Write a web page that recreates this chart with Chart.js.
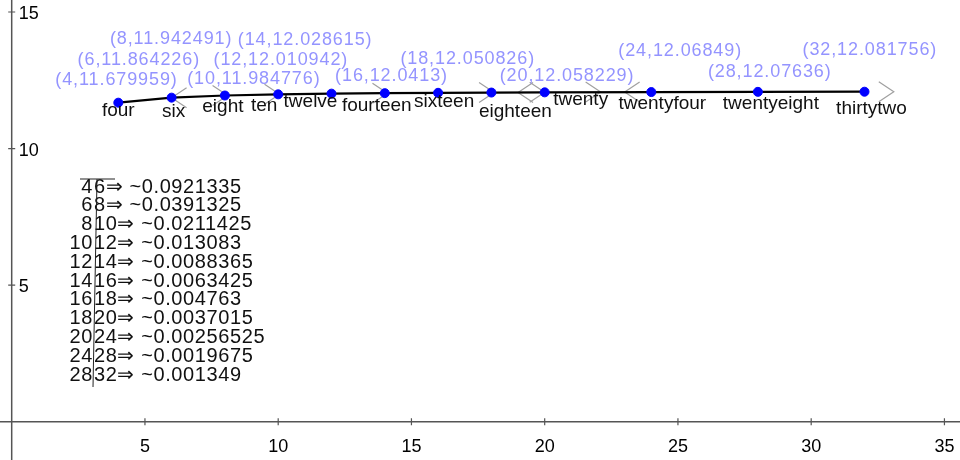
<!DOCTYPE html>
<html>
<head>
<meta charset="utf-8">
<script src="https://cdn.jsdelivr.net/npm/chart.js@4.4.0/dist/chart.umd.min.js"></script>
<style>
    body { margin: 0; background: #fff; }
    canvas { display: block; }
</style>
</head>
<body>
<canvas id="chart" width="960" height="460"></canvas>
<script>
const xValues = [4, 6, 8, 10, 12, 14, 16, 18, 20, 24, 28, 32];
const yValues = [11.679959, 11.864226, 11.942491, 11.984776, 12.010942, 12.028615,
    12.0413, 12.050826, 12.058229, 12.06849, 12.07636, 12.081756];
const pointNames = ["four", "six", "eight", "ten", "twelve", "fourteen", "sixteen",
    "eighteen", "twenty", "twentyfour", "twentyeight", "thirtytwo"];

const xTickValues = [5, 10, 15, 20, 25, 30, 35];
const yTickValues = [5, 10, 15];

// differences between neighbouring points, as listed in the text box
const diffFrom = [4, 6, 8, 10, 12, 14, 16, 18, 20, 24, 28];
const diffTo = [6, 8, 10, 12, 14, 16, 18, 20, 24, 28, 32];
const diffValues = ["0.0921335", "0.0391325", "0.0211425", "0.013083", "0.0088365", "0.0063425",
    "0.004763", "0.0037015", "0.00256525", "0.0019675", "0.001349"];

// gray vector arrow heads: x position and direction
const arrowX = [6, 8.1, 10.05, 14.1, 18.1, 19, 20, 22.1, 23, 33.1];
const arrowDir = [-1, 1, 1, 1, 1, -1, 1, 1, -1, 1];

// label placement (pixels from the point)
const coordOffsets = [[-63, -23], [-94, -38], [-115, -56], [-91, -15], [-118, -34], [-147, -53],
    [-103, -17], [-91, -34], [-45, -16], [-33, -41], [-50, -20], [-62, -42]];
const nameOffsets = [[0, 8], [2, 14], [-2, 11], [-14, 11], [-21, 8], [-8, 13],
    [6, 9], [24, 19], [36, 7], [11, 12], [13, 12], [7, 17]];

const FONT = '"Liberation Sans", Arial, sans-serif';

function nearestY(x) {
    let best = 0;
    xValues.forEach((v, i) => {
        if (Math.abs(v - x) < Math.abs(xValues[best] - x)) best = i;
    });
    return yValues[best];
}

const axesPlugin = {
    id: "geoAxes",
    beforeDraw(chart) {
        const ctx = chart.ctx;
        ctx.save();
        ctx.fillStyle = "#fff";
        ctx.fillRect(0, 0, chart.width, chart.height);
        ctx.restore();
    },
    beforeDatasetsDraw(chart) {
        const ctx = chart.ctx;
        const xs = chart.scales.x, ys = chart.scales.y;
        const x0 = xs.getPixelForValue(0), y0 = ys.getPixelForValue(0);
        ctx.save();
        ctx.strokeStyle = "#555";
        ctx.lineWidth = 1.5;
        ctx.beginPath();
        ctx.moveTo(0, y0); ctx.lineTo(chart.width, y0);
        ctx.moveTo(x0, 0); ctx.lineTo(x0, chart.height);
        ctx.stroke();

        ctx.lineWidth = 1.2;
        ctx.beginPath();
        xTickValues.forEach(v => {
            const px = xs.getPixelForValue(v);
            ctx.moveTo(px, y0 - 3.5); ctx.lineTo(px, y0 + 3.5);
        });
        yTickValues.forEach(v => {
            const py = ys.getPixelForValue(v);
            ctx.moveTo(x0 - 3.5, py); ctx.lineTo(x0 + 3.5, py);
        });
        ctx.stroke();

        ctx.fillStyle = "#000";
        ctx.font = "18px " + FONT;
        ctx.textBaseline = "middle";
        ctx.textAlign = "center";
        xTickValues.forEach(v => {
            ctx.fillText(String(v), xs.getPixelForValue(v), y0 + 25);
        });
        ctx.textAlign = "left";
        yTickValues.forEach(v => {
            ctx.fillText(String(v), x0 + 7, ys.getPixelForValue(v) + 2);
        });

        // gray vector heads
        ctx.strokeStyle = "#a0a0a0";
        ctx.lineWidth = 1.2;
        arrowX.forEach((v, i) => {
            const px = xs.getPixelForValue(v);
            const py = ys.getPixelForValue(nearestY(v));
            const d = arrowDir[i];
            ctx.beginPath();
            ctx.moveTo(px - d * 15, py - 10);
            ctx.lineTo(px, py);
            ctx.lineTo(px - d * 15, py + 10);
            ctx.stroke();
        });
        ctx.restore();
    },
    afterDatasetsDraw(chart) {
        const ctx = chart.ctx;
        const xs = chart.scales.x, ys = chart.scales.y;
        ctx.save();
        ctx.textBaseline = "middle";

        // coordinate labels
        ctx.fillStyle = "#9494ff";
        ctx.font = "18px " + FONT;
        ctx.letterSpacing = "0.9px";
        ctx.textAlign = "left";
        xValues.forEach((x, i) => {
            const px = xs.getPixelForValue(x), py = ys.getPixelForValue(yValues[i]);
            ctx.fillText("(" + x + "," + yValues[i] + ")", px + coordOffsets[i][0], py + coordOffsets[i][1]);
        });

        // point names
        ctx.letterSpacing = "0px";
        ctx.fillStyle = "#111";
        ctx.font = "19px " + FONT;
        ctx.textAlign = "center";
        xValues.forEach((x, i) => {
            const px = xs.getPixelForValue(x), py = ys.getPixelForValue(yValues[i]);
            ctx.fillText(pointNames[i], px + nameOffsets[i][0], py + nameOffsets[i][1]);
        });

        // list of differences
        const splitX = 93, top = 187, step = 18.8;
        ctx.font = "20px " + FONT;
        ctx.letterSpacing = "0.6px";
        diffValues.forEach((val, i) => {
            const y = top + i * step;
            ctx.textAlign = "right";
            ctx.fillText(String(diffFrom[i]), splitX, y);
            ctx.textAlign = "left";
            ctx.fillText(diffTo[i] + "\u21D2 ~" + val, splitX + 1, y);
        });
        ctx.strokeStyle = "#222";
        ctx.lineWidth = 1;
        ctx.beginPath();
        ctx.moveTo(80, top - 8); ctx.lineTo(115, top - 8);
        ctx.moveTo(97, top - 8); ctx.lineTo(93, top + 10 * step + 12);
        ctx.stroke();
        ctx.restore();
    }
};

const points = xValues.map((x, i) => ({ x: x, y: yValues[i] }));

new Chart(document.getElementById("chart"), {
    type: "scatter",
    data: {
        datasets: [{
            data: points,
            showLine: true,
            borderColor: "#000",
            borderWidth: 2.2,
            pointRadius: 4.5,
            pointBackgroundColor: "#0000ff",
            pointBorderColor: "#0000ff",
            pointBorderWidth: 1
        }]
    },
    options: {
        responsive: false,
        animation: false,
        layout: { padding: 0, autoPadding: false },
        plugins: { legend: { display: false }, tooltip: { enabled: false } },
        scales: {
            x: { type: "linear", min: -0.439, max: 35.584, display: false },
            y: { type: "linear", min: -1.405, max: 15.44, display: false }
        }
    },
    plugins: [axesPlugin]
});
</script>
</body>
</html>
